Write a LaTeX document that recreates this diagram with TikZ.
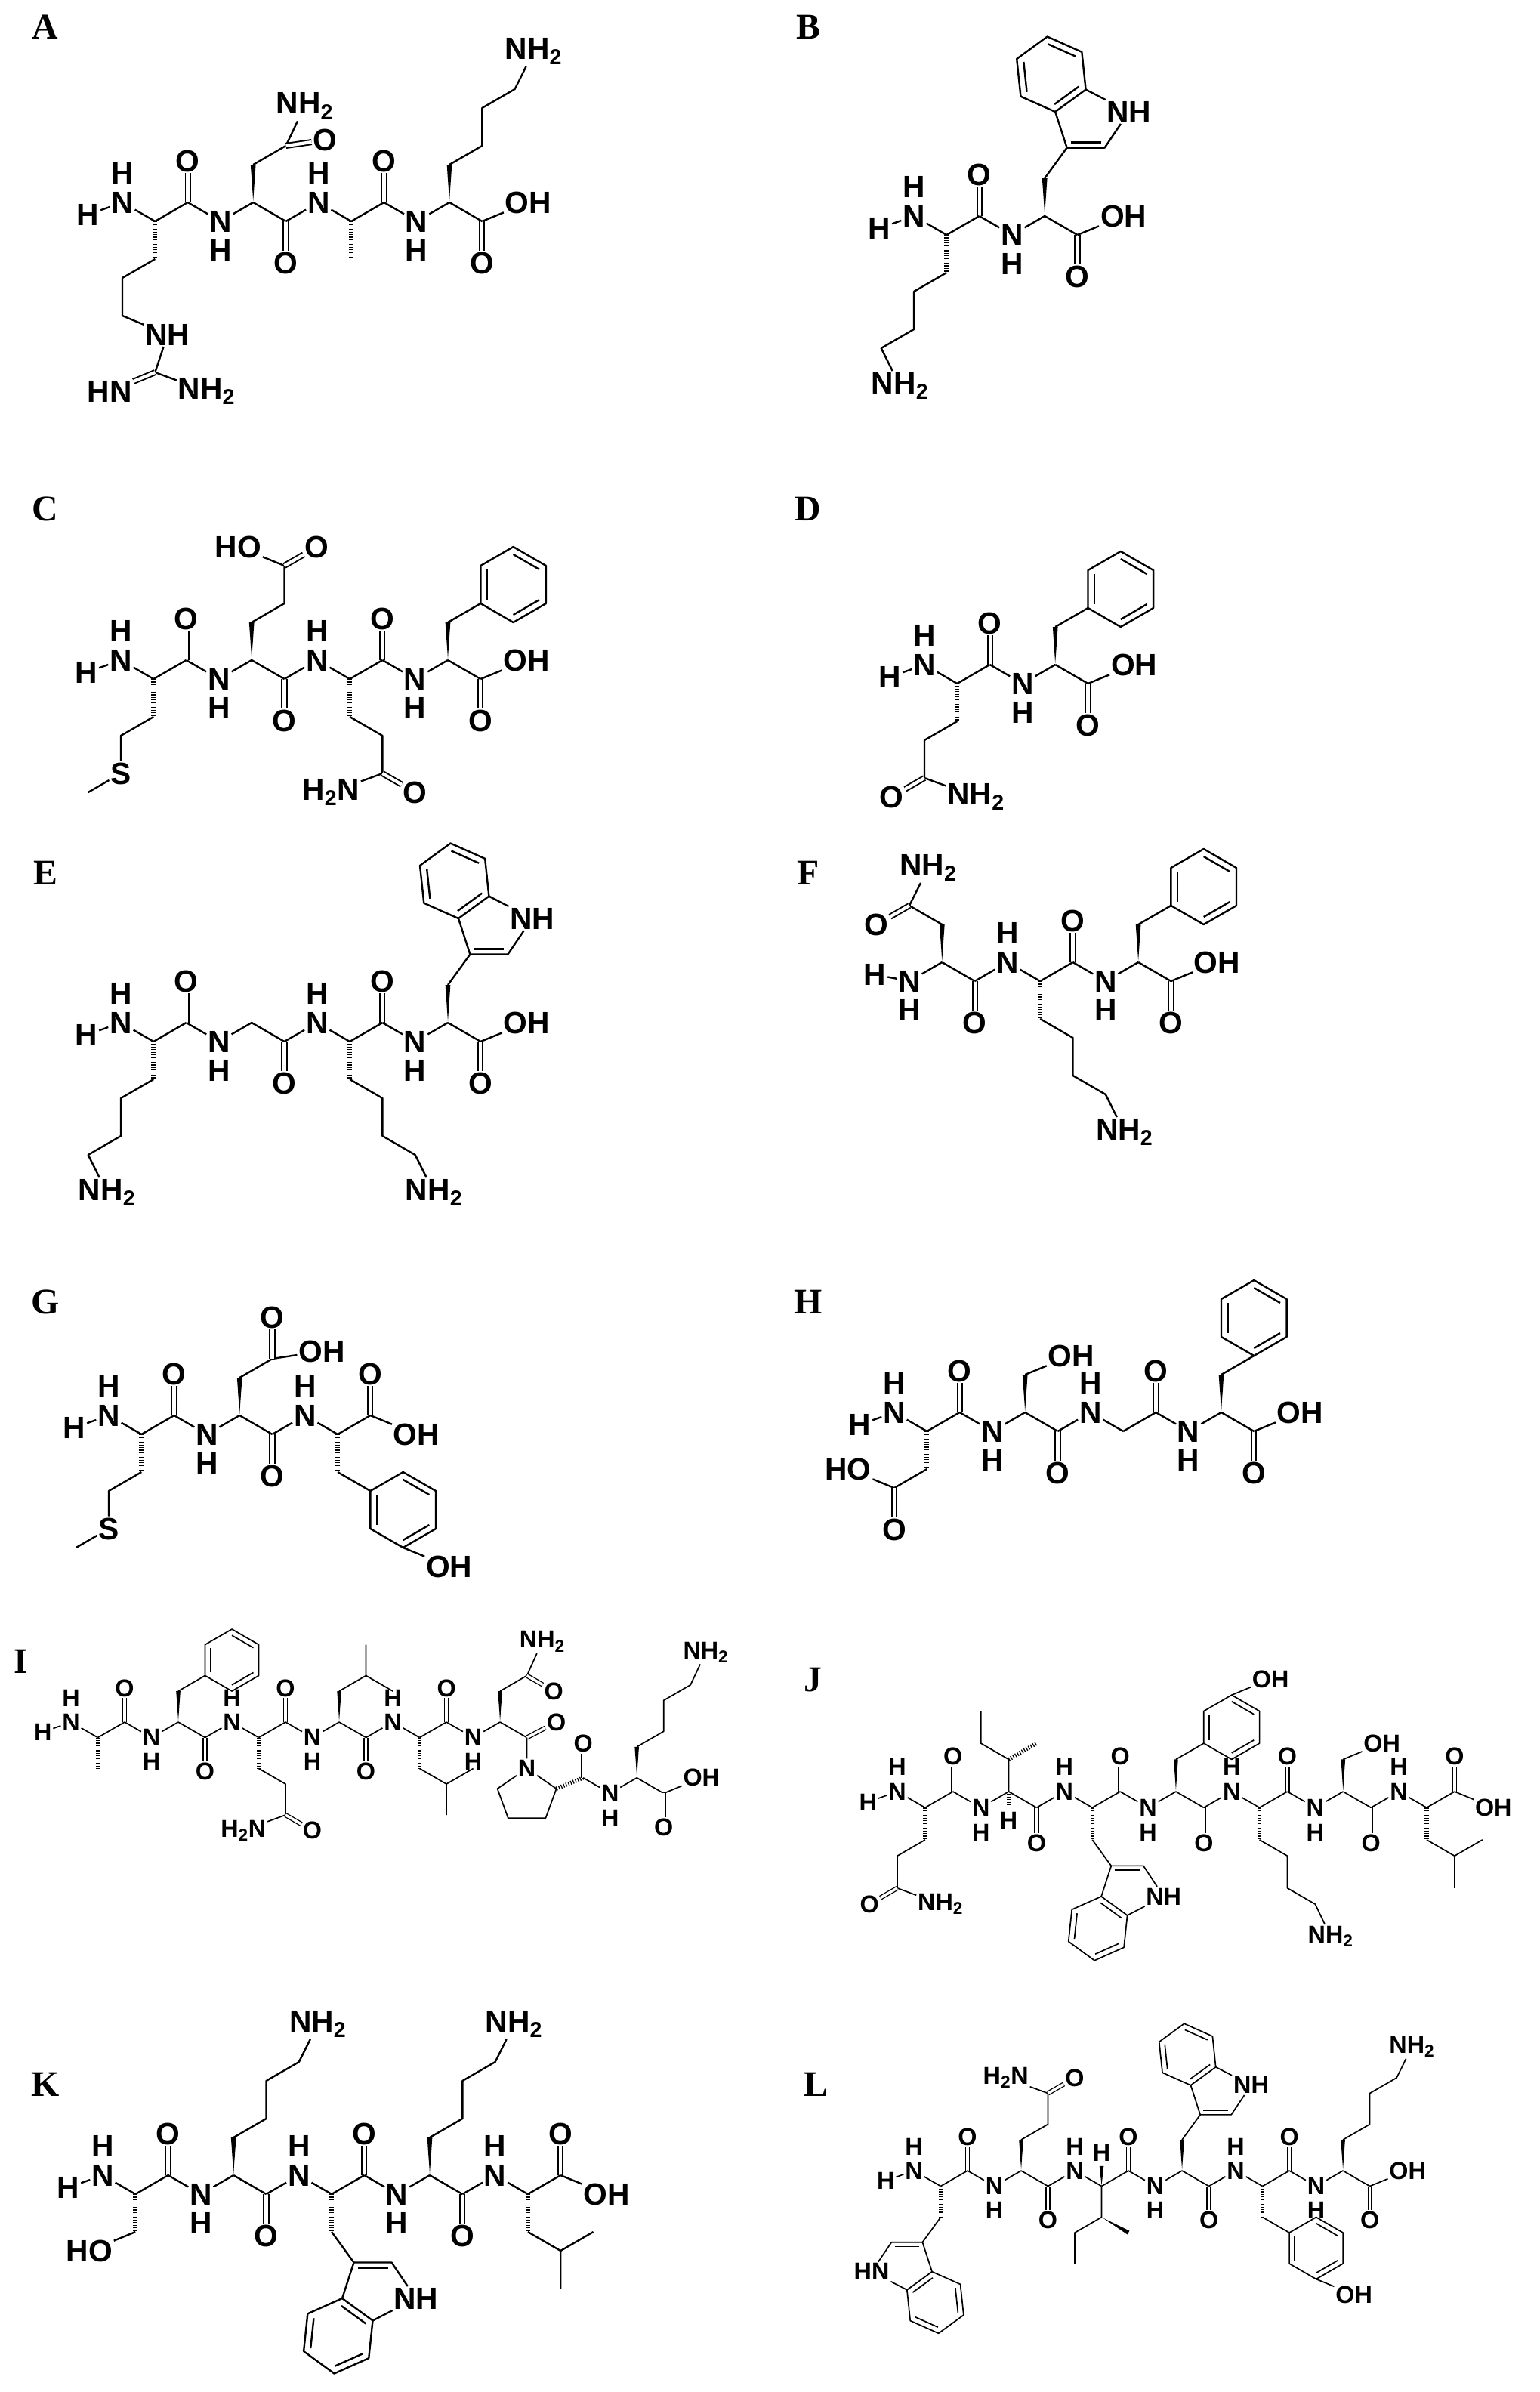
\documentclass[tikz,border=0pt]{standalone}
\usepackage{fontspec}
\setmainfont{Liberation Sans}
\newfontfamily\serf{Liberation Serif}
\usetikzlibrary{calc}
\newcommand\two{\textsubscript{2}}
\def\Lmm{12.5}\def\Afont{\fontsize{29}{29}\selectfont\bfseries}\def\Hw{10.5pt}
\def\Blw{1.7pt}\def\Wwd{4.5pt}\def\Wh{2.4pt}\def\Ddd{3pt}
\tikzset{
 bd/.style={line width=\Blw, line join=round},
 dbl/.style={double, line width=0.8*\Blw, double distance=\Ddd},
 hsh/.style={line width=\Wwd, dash pattern=on 0.9pt off 1.5pt},
 atm/.style={font=\Afont, inner sep=1.2pt},
 lw/.style={anchor=west, xshift=-\Hw},
 re/.style={anchor=east, xshift=\Hw},
 plab/.style={font=\serf\bfseries\fontsize{34}{34}\selectfont},
 mol/.style={x={0.866*\Lmm mm}, y={-0.5*\Lmm mm}}
}
\newcommand\Cc[2]{\coordinate (#1) at (#2);}
\newcommand\At[4][]{\node[atm,#1] (#2) at (#3) {#4};}
\newcommand\Hsh[2]{\draw[hsh] (#1) -- (#2);}
\newcommand\Wdg[2]{\fill ($(#1)!0.04!(#2)$) -- ($(#2)!\Wh!90:(#1)$) -- ($(#2)!\Wh!-90:(#1)$) -- cycle;}
\newcommand\Inr[3]{\draw[bd] ($(#1)!0.2!(#3)$) -- ($(#2)!0.2!(#3)$);}
\newcommand\Pep[4]{%
 \foreach \k in {0,...,#2}{%
  \pgfmathtruncatemacro\Pj{mod(\k+#3,2)}%
  \pgfmathtruncatemacro\Pt{mod(\k,3)}%
  \pgfmathtruncatemacro\Pp{\k-1}%
  \pgfmathtruncatemacro\Ps{2*\Pj-1}%
  \ifnum\k=#2 \ifnum#4=1 \def\Pt{9}\fi\fi
  \ifnum\Pt=9
    \node[atm,lw] (#1\k) at (\k,\Pj) {OH};
  \else\ifnum\Pt=0
    \node[atm] (#1\k) at (\k,\Pj) {N};
    \node[atm] (#1H\k) at (\k,\Pj+1.55*\Ps) {H};
  \else\ifnum\Pt=1
    \coordinate (#1\k) at (\k,\Pj);
  \else
    \coordinate (#1\k) at (\k,\Pj);
    \node[atm] (#1O\k) at (\k,\Pj+2.2*\Ps) {O};
    \draw[dbl] (#1\k) -- (#1O\k);
  \fi\fi\fi
  \ifnum\k>0 \draw[bd] (#1\Pp) -- (#1\k);\fi
 }%
 \node[atm] (#1HL) at (-1.05,0.65) {H};
 \draw[bd] (#1HL) -- (#10);
}
\newcommand\Ring[3]{%
 \coordinate (#1c) at (#2,#3);
 \coordinate (#1r1) at (#2,#3-2); \coordinate (#1r2) at (#2+1,#3-1);
 \coordinate (#1r3) at (#2+1,#3+1); \coordinate (#1r4) at (#2,#3+2);
 \coordinate (#1r5) at (#2-1,#3+1); \coordinate (#1r6) at (#2-1,#3-1);
 \draw[bd] (#1r1)--(#1r2)--(#1r3)--(#1r4)--(#1r5)--(#1r6)--cycle;
 \Inr{#1r1}{#1r2}{#1c}\Inr{#1r3}{#1r4}{#1c}\Inr{#1r5}{#1r6}{#1c}}
\newcommand\Indole[4]{%
 \begin{scope}[shift={(#2)}, x={#3*\Lmm mm}, y={#4*(-1)*\Lmm mm}]
  \coordinate (#1C3) at (0,0); \coordinate (#1C2) at (1,0);
  \ifnum#3=1 \node[atm,lw] (#1N) at (1.309,-0.951) {NH};
  \else \node[atm,re] (#1N) at (1.309,-0.951) {HN};\fi
  \coordinate (#1C7a) at (0.5,-1.539); \coordinate (#1C3a) at (-0.309,-0.951);
  \coordinate (#1C4) at (-1.223,-1.358); \coordinate (#1C5) at (-1.328,-2.352);
  \coordinate (#1C6) at (-0.519,-2.941); \coordinate (#1C7) at (0.395,-2.534);
  \coordinate (#1pc) at (0.5,-0.688); \coordinate (#1bc) at (-0.414,-1.946);
  \draw[bd] (#1C3)--(#1C2)--(#1N)--(#1C7a)--(#1C3a)--(#1C3);
  \draw[bd] (#1C3a)--(#1C4)--(#1C5)--(#1C6)--(#1C7)--(#1C7a);
  \Inr{#1C3}{#1C2}{#1pc}\Inr{#1C3a}{#1C7a}{#1bc}\Inr{#1C4}{#1C5}{#1bc}\Inr{#1C6}{#1C7}{#1bc}
 \end{scope}}
\begin{document}
\begin{tikzpicture}[x=0.5mm,y=-0.5mm]
\fill[white] (0,0) rectangle (1019,1583.5);
\useasboundingbox (0,0) rectangle (1019,1583.5);
\node[plab] (labA) at (30,18) {A};
\node[plab] (labB) at (535,18) {B};
\node[plab] (labC) at (30,337) {C};
\node[plab] (labD) at (535,337) {D};
\node[plab] (labE) at (30,578) {E};
\node[plab] (labF) at (535,578) {F};
\node[plab] (labG) at (30,862) {G};
\node[plab] (labH) at (535,862) {H};
\node[plab] (labI) at (14,1100) {I};
\node[plab] (labJ) at (538,1112) {J};
\node[plab] (labK) at (30,1380) {K};
\node[plab] (labL) at (540,1380) {L};
% ---------------- A
\begin{scope}[shift={(81,134)}, mol]
\Pep{a}{12}{0}{1}
\Cc{aR1}{1,3}\Cc{aR2}{0,4}\Cc{aR3}{0,6}\At[lw]{aR4}{1,7}{NH}\Cc{aR5}{1,9}
\At[re]{aR6}{0,10}{HN}\At[lw]{aR7}{2,10}{NH\two}
\Hsh{a1}{aR1}\draw[bd] (aR1)--(aR2)--(aR3)--(aR4)--(aR5)--(aR7);\draw[dbl] (aR5)--(aR6);
\Cc{aN1}{4,-2}\Cc{aN2}{5,-3}\At{aN3}{6.2,-3.3}{O}\At[lw]{aN4}{5,-5.1}{NH\two}
\Wdg{a4}{aN1}\draw[bd] (aN1)--(aN2)--(aN4);\draw[dbl] (aN2)--(aN3);
\Cc{aA1}{7,3}\Hsh{a7}{aA1}
\Cc{aK1}{10,-2}\Cc{aK2}{11,-3}\Cc{aK3}{11,-5}\Cc{aK4}{12,-6}\At[lw]{aK5}{12,-8}{NH\two}
\Wdg{a10}{aK1}\draw[bd] (aK1)--(aK2)--(aK3)--(aK4)--(aK5);
\end{scope}
% ---------------- B
\begin{scope}[shift={(605,143)}, mol]
\Pep{b}{6}{0}{1}
\Cc{bK1}{1,3}\Cc{bK2}{0,4}\Cc{bK3}{0,6}\Cc{bK4}{-1,7}\At[lw]{bK5}{-1,9}{NH\two}
\Hsh{b1}{bK1}\draw[bd] (bK1)--(bK2)--(bK3)--(bK4)--(bK5);
\Cc{bW1}{4,-2}\Wdg{b4}{bW1}
\Indole{bW}{4.679,-3.618}{1}{1}
\draw[bd] (bW1)--(bWC3);
\end{scope}
% ---------------- C
\begin{scope}[shift={(80,437)}, mol]
\Pep{c}{12}{0}{1}
\Cc{cM1}{1,3}\Cc{cM2}{0,4}\At{cM3}{0,6}{S}\Cc{cM4}{-1,7}
\Hsh{c1}{cM1}\draw[bd] (cM1)--(cM2)--(cM3)--(cM4);
\Cc{cE1}{4,-2}\Cc{cE2}{5,-3}\Cc{cE3}{5,-5}\At{cE4}{6,-6}{O}\At[re]{cE5}{4,-6}{HO}
\Wdg{c4}{cE1}\draw[bd] (cE1)--(cE2)--(cE3)--(cE5);\draw[dbl] (cE3)--(cE4);
\Cc{cQ1}{7,3}\Cc{cQ2}{8,4}\Cc{cQ3}{8,6}\At{cQ4}{9,7}{O}\At[re]{cQ5}{7,7}{H\two N}
\Hsh{c7}{cQ1}\draw[bd] (cQ1)--(cQ2)--(cQ3)--(cQ5);\draw[dbl] (cQ3)--(cQ4);
\Cc{cF1}{10,-2}\Wdg{c10}{cF1}\Ring{cF}{12}{-4}\draw[bd] (cF1)--(cFr5);
\end{scope}
% ---------------- D
\begin{scope}[shift={(612,440)}, mol]
\Pep{d}{6}{0}{1}
\Cc{dQ1}{1,3}\Cc{dQ2}{0,4}\Cc{dQ3}{0,6}\At{dQ4}{-1,7}{O}\At[lw]{dQ5}{1,7}{NH\two}
\Hsh{d1}{dQ1}\draw[bd] (dQ1)--(dQ2)--(dQ3)--(dQ5);\draw[dbl] (dQ3)--(dQ4);
\Cc{dF1}{4,-2}\Wdg{d4}{dF1}\Ring{dF}{6}{-4}\draw[bd] (dF1)--(dFr5);
\end{scope}
% ---------------- E
\begin{scope}[shift={(80,677)}, mol]
\Pep{e}{12}{0}{1}
\Cc{eK1}{1,3}\Cc{eK2}{0,4}\Cc{eK3}{0,6}\Cc{eK4}{-1,7}\At[lw]{eK5}{-1,9}{NH\two}
\Hsh{e1}{eK1}\draw[bd] (eK1)--(eK2)--(eK3)--(eK4)--(eK5);
\Cc{eL1}{7,3}\Cc{eL2}{8,4}\Cc{eL3}{8,6}\Cc{eL4}{9,7}\At[lw]{eL5}{9,9}{NH\two}
\Hsh{e7}{eL1}\draw[bd] (eL1)--(eL2)--(eL3)--(eL4)--(eL5);
\Cc{eW1}{10,-2}\Wdg{e10}{eW1}
\Indole{eW}{10.679,-3.618}{1}{1}
\draw[bd] (eW1)--(eWC3);
\end{scope}
% ---------------- F
\begin{scope}[shift={(602,637)}, mol]
\Pep{f}{9}{1}{1}
\Cc{fN1}{1,-2}\Cc{fN2}{0,-3}\At{fN3}{-1,-2}{O}\At[lw]{fN4}{0,-5}{NH\two}
\Wdg{f1}{fN1}\draw[bd] (fN1)--(fN2)--(fN4);\draw[dbl] (fN2)--(fN3);
\Cc{fK1}{4,3}\Cc{fK2}{5,4}\Cc{fK3}{5,6}\Cc{fK4}{6,7}\At[lw]{fK5}{6,9}{NH\two}
\Hsh{f4}{fK1}\draw[bd] (fK1)--(fK2)--(fK3)--(fK4)--(fK5);
\Cc{fF1}{7,-2}\Wdg{f7}{fF1}\Ring{fF}{9}{-4}\draw[bd] (fF1)--(fFr5);
\end{scope}
% ---------------- G
\begin{scope}[shift={(72,937)}, mol]
\Pep{g}{9}{0}{1}
\Cc{gM1}{1,3}\Cc{gM2}{0,4}\At{gM3}{0,6}{S}\Cc{gM4}{-1,7}
\Hsh{g1}{gM1}\draw[bd] (gM1)--(gM2)--(gM3)--(gM4);
\Cc{gD1}{4,-2}\Cc{gD2}{5,-3}\At{gD3}{5,-5.2}{O}\At[lw]{gD4}{6.1,-3.4}{OH}
\Wdg{g4}{gD1}\draw[bd] (gD1)--(gD2)--(gD4);\draw[dbl] (gD2)--(gD3);
\Cc{gY1}{7,3}\Hsh{g7}{gY1}\Ring{gY}{9}{5}\draw[bd] (gY1)--(gYr6);
\At[lw]{gY2}{10,8}{OH}\draw[bd] (gYr4)--(gY2);
\end{scope}
% ---------------- H
\begin{scope}[shift={(592,935)}, mol]
\Pep{h}{12}{0}{1}
\Cc{hD1}{1,3}\Cc{hD2}{0,4}\At[re]{hD3}{-1,3}{HO}\At{hD4}{0,6.2}{O}
\Hsh{h1}{hD1}\draw[bd] (hD1)--(hD2)--(hD3);\draw[dbl] (hD2)--(hD4);
\Cc{hS1}{4,-2}\At[lw]{hS2}{5,-3}{OH}\Wdg{h4}{hS1}\draw[bd] (hS1)--(hS2);
\Cc{hF1}{10,-2}\Wdg{h10}{hF1}\Ring{hF}{11}{-5}\draw[bd] (hF1)--(hFr4);
\end{scope}
% ---------------- I
\def\Lmm{10.25}\def\Afont{\fontsize{23}{23}\selectfont\bfseries}\def\Hw{8.3pt}
\def\Blw{1.2pt}\def\Wwd{3.8pt}\def\Wh{2pt}\def\Ddd{2.5pt}
\begin{scope}[shift={(47,1140)}, mol]
\Pep{i}{16}{0}{0}
\Cc{iA1}{1,3}\Hsh{i1}{iA1}
\Cc{iF1}{4,-2}\Wdg{i4}{iF1}\Ring{iF}{6}{-4}\draw[bd] (iF1)--(iFr5);
\Cc{iQ1}{7,3}\Cc{iQ2}{8,4}\Cc{iQ3}{8,6}\At{iQ4}{9,7}{O}\At[re]{iQ5}{7,7}{H\two N}
\Hsh{i7}{iQ1}\draw[bd] (iQ1)--(iQ2)--(iQ3)--(iQ5);\draw[dbl] (iQ3)--(iQ4);
\Cc{iL1}{10,-2}\Cc{iL2}{11,-3}\Cc{iL3}{11,-5}\Cc{iL4}{12,-2}
\Wdg{i10}{iL1}\draw[bd] (iL1)--(iL2)--(iL3);\draw[bd] (iL2)--(iL4);
\Cc{iM1}{13,3}\Cc{iM2}{14,4}\Cc{iM3}{14,6}\Cc{iM4}{15,3}
\Hsh{i13}{iM1}\draw[bd] (iM1)--(iM2)--(iM3);\draw[bd] (iM2)--(iM4);
\Cc{iN1}{16,-2}\Cc{iN2}{17,-3}\At[lw]{iN3}{17,-5.2}{NH\two}\At{iN4}{18,-2}{O}
\Wdg{i16}{iN1}\draw[bd] (iN1)--(iN2)--(iN3);\draw[dbl] (iN2)--(iN4);
\Cc{i17}{17,1}\At{iO17}{18.1,0}{O}\draw[bd] (i16)--(i17);\draw[dbl] (i17)--(iO17);
\At{iPN}{17,3}{N}\Cc{iPa}{18.1,4.3}\Cc{iPb}{17.7,6.2}\Cc{iPg}{16.3,6.2}\Cc{iPd}{15.9,4.3}
\draw[bd] (i17)--(iPN)--(iPa)--(iPb)--(iPg)--(iPd)--(iPN);
\Cc{iC7}{19.1,3.6}\Hsh{iPa}{iC7}\At{iO7}{19.1,1.4}{O}\draw[dbl] (iC7)--(iO7);
\At{iN8}{20.1,4.6}{N}\At{iH8}{20.1,6.2}{H}\Cc{iA8}{21.1,3.6}\Cc{iC8}{22.1,4.6}
\At[lw]{iOH}{23.1,3.6}{OH}\At{iO8}{22.1,6.8}{O}
\draw[bd] (iC7)--(iN8)--(iA8)--(iC8)--(iOH);\draw[dbl] (iC8)--(iO8);
\Cc{iK1}{21.1,1.6}\Cc{iK2}{22.1,0.6}\Cc{iK3}{22.1,-1.4}\Cc{iK4}{23.1,-2.4}\At[lw]{iK5}{23.1,-4.5}{NH\two}
\Wdg{iA8}{iK1}\draw[bd] (iK1)--(iK2)--(iK3)--(iK4)--(iK5);
\end{scope}
% ---------------- J
\def\Lmm{10.65}
\begin{scope}[shift={(594,1186)}, mol]
\Pep{j}{21}{0}{1}
\Cc{jQ1}{1,3}\Cc{jQ2}{0,4}\Cc{jQ3}{0,6}\At{jQ4}{-1,7}{O}\At[lw]{jQ5}{1,7}{NH\two}
\Hsh{j1}{jQ1}\draw[bd] (jQ1)--(jQ2)--(jQ3)--(jQ5);\draw[dbl] (jQ3)--(jQ4);
\Cc{jI1}{4,-2}\Cc{jI2}{5,-3}\Cc{jI3}{3,-3}\Cc{jI4}{3,-5}\Cc{jIh}{4,1.0}\At{jIH}{4,1.8}{H}
\draw[bd] (j4)--(jI1)--(jI3)--(jI4);\Hsh{jI1}{jI2}\Hsh{j4}{jIh}
\Cc{jW1}{7,3}\Hsh{j7}{jW1}\Indole{jW}{7.679,4.618}{1}{-1}\draw[bd] (jW1)--(jWC3);
\Cc{jY1}{10,-2}\Wdg{j10}{jY1}\Ring{jY}{12}{-4}\draw[bd] (jY1)--(jYr5);
\At[lw]{jY2}{13,-7}{OH}\draw[bd] (jYr1)--(jY2);
\Cc{jK1}{13,3}\Cc{jK2}{14,4}\Cc{jK3}{14,6}\Cc{jK4}{15,7}\At[lw]{jK5}{15,9}{NH\two}
\Hsh{j13}{jK1}\draw[bd] (jK1)--(jK2)--(jK3)--(jK4)--(jK5);
\Cc{jS1}{16,-2}\At[lw]{jS2}{17,-3}{OH}\Wdg{j16}{jS1}\draw[bd] (jS1)--(jS2);
\Cc{jL1}{19,3}\Cc{jL2}{20,4}\Cc{jL3}{20,6}\Cc{jL4}{21,3}
\Hsh{j19}{jL1}\draw[bd] (jL1)--(jL2)--(jL3);\draw[bd] (jL2)--(jL4);
\end{scope}
% ---------------- K
\def\Lmm{12.5}\def\Afont{\fontsize{29}{29}\selectfont\bfseries}\def\Hw{10.5pt}
\def\Blw{1.7pt}\def\Wwd{4.5pt}\def\Wh{2.4pt}\def\Ddd{3pt}
\begin{scope}[shift={(68,1440)}, mol]
\Pep{k}{15}{0}{1}
\Cc{kS1}{1,3}\At[re]{kS2}{0,4}{HO}\Hsh{k1}{kS1}\draw[bd] (kS1)--(kS2);
\Cc{kK1}{4,-2}\Cc{kK2}{5,-3}\Cc{kK3}{5,-5}\Cc{kK4}{6,-6}\At[lw]{kK5}{6,-8}{NH\two}
\Wdg{k4}{kK1}\draw[bd] (kK1)--(kK2)--(kK3)--(kK4)--(kK5);
\Cc{kW1}{7,3}\Hsh{k7}{kW1}\Indole{kW}{7.679,4.618}{1}{-1}\draw[bd] (kW1)--(kWC3);
\Cc{kM1}{10,-2}\Cc{kM2}{11,-3}\Cc{kM3}{11,-5}\Cc{kM4}{12,-6}\At[lw]{kM5}{12,-8}{NH\two}
\Wdg{k10}{kM1}\draw[bd] (kM1)--(kM2)--(kM3)--(kM4)--(kM5);
\Cc{kL1}{13,3}\Cc{kL2}{14,4}\Cc{kL3}{14,6}\Cc{kL4}{15,3}
\Hsh{k13}{kL1}\draw[bd] (kL1)--(kL2)--(kL3);\draw[bd] (kL2)--(kL4);
\end{scope}
% ---------------- L
\def\Lmm{10.25}\def\Afont{\fontsize{23}{23}\selectfont\bfseries}\def\Hw{8.3pt}
\def\Blw{1.2pt}\def\Wwd{3.8pt}\def\Wh{2pt}\def\Ddd{2.5pt}
\begin{scope}[shift={(605,1437)}, mol]
\Pep{l}{18}{0}{1}
\Cc{lW1}{1,3}\Hsh{l1}{lW1}\Indole{lW}{0.321,4.618}{-1}{-1}\draw[bd] (lW1)--(lWC3);
\Cc{lQ1}{4,-2}\Cc{lQ2}{5,-3}\Cc{lQ3}{5,-5}\At{lQ4}{6,-6}{O}\At[re]{lQ5}{4,-6}{H\two N}
\Wdg{l4}{lQ1}\draw[bd] (lQ1)--(lQ2)--(lQ3)--(lQ5);\draw[dbl] (lQ3)--(lQ4);
\Cc{lIh}{7,-0.3}\At{lIH}{7,-1.15}{H}\Wdg{l7}{lIh}
\Cc{lI1}{7,3}\Cc{lI2}{8,4}\Cc{lI3}{6,4}\Cc{lI4}{6,6}
\draw[bd] (l7)--(lI1)--(lI3)--(lI4);\Wdg{lI1}{lI2}
\Cc{lX1}{10,-2}\Wdg{l10}{lX1}\Indole{lX}{10.679,-3.618}{1}{1}\draw[bd] (lX1)--(lXC3);
\Cc{lY1}{13,3}\Hsh{l13}{lY1}\Ring{lY}{15}{5}\draw[bd] (lY1)--(lYr6);
\At[lw]{lY2}{16,8}{OH}\draw[bd] (lYr4)--(lY2);
\Cc{lK1}{16,-2}\Cc{lK2}{17,-3}\Cc{lK3}{17,-5}\Cc{lK4}{18,-6}\At[lw]{lK5}{18,-8}{NH\two}
\Wdg{l16}{lK1}\draw[bd] (lK1)--(lK2)--(lK3)--(lK4)--(lK5);
\end{scope}
\end{tikzpicture}
\end{document}
